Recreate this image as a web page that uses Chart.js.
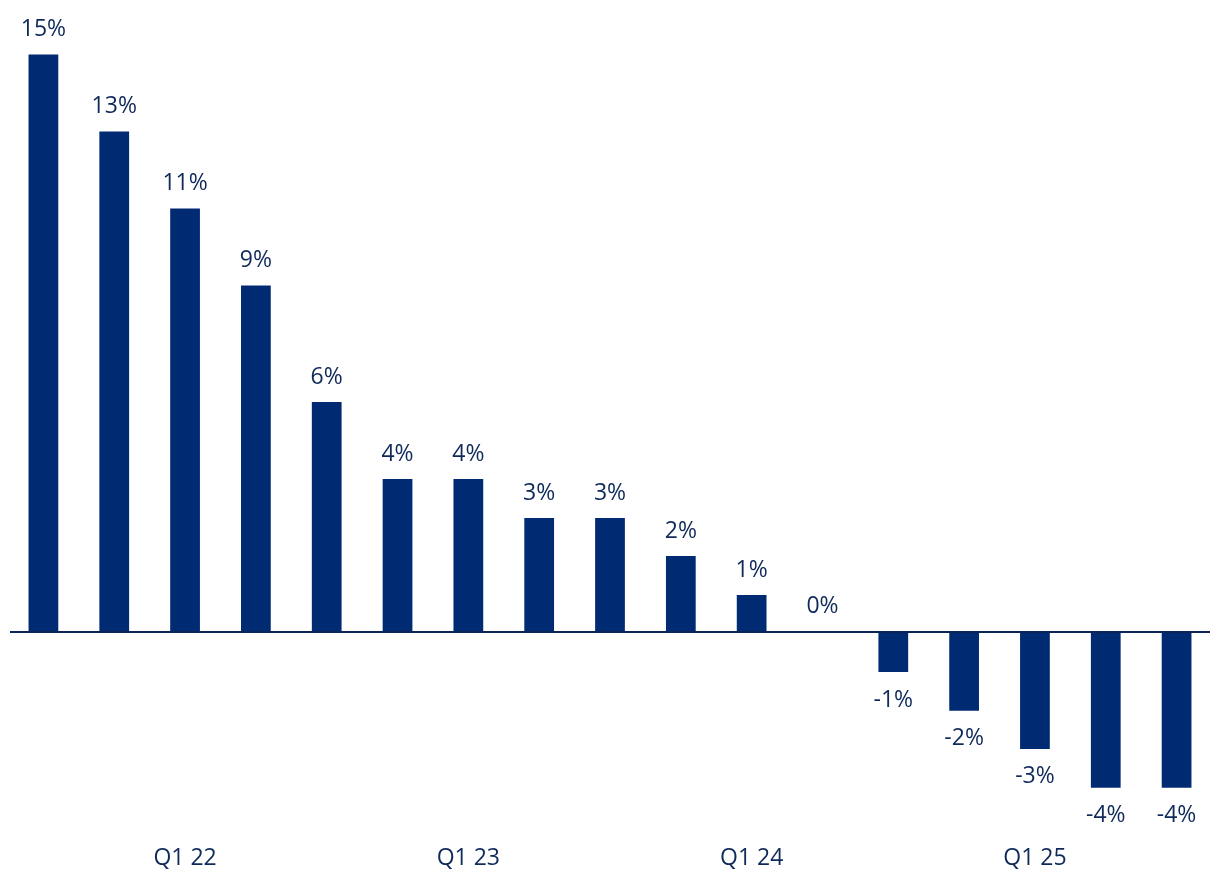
<!DOCTYPE html>
<html>
<head>
<meta charset="utf-8">
<script src="https://cdn.jsdelivr.net/npm/chart.js@4.4.1/dist/chart.umd.min.js"></script>
<style>
  html, body { margin: 0; padding: 0; background: #fff; }
  #wrap { width: 1220px; height: 896px; }
</style>
</head>
<body>
<div id="wrap"><canvas id="barChart"></canvas></div>
<script>
const quarters = ['Q3 21', 'Q4 21', 'Q1 22', 'Q2 22', 'Q3 22', 'Q4 22', 'Q1 23', 'Q2 23', 'Q3 23',
    'Q4 23', 'Q1 24', 'Q2 24', 'Q3 24', 'Q4 24', 'Q1 25', 'Q2 25', 'Q3 25'];
const growth = [15.0, 13.0, 11.0, 9.0, 5.97, 3.97, 3.97, 2.96, 2.96, 1.97, 0.96, 0.0,
    -1.04, -2.05, -3.04, -4.05, -4.05];

const navy = '#002b73';
const textNavy = '#0f2a5a';
const fontFamily = '"Open Sans", "Noto Sans", sans-serif';

// zero line + value labels drawn from the bar elements
const barLabels = {
    id: 'barLabels',
    afterDatasetsDraw(chart) {
        const ctx = chart.ctx;
        const y0 = chart.scales.y.getPixelForValue(0);
        ctx.save();
        ctx.strokeStyle = '#0b2357';
        ctx.lineWidth = 2;
        ctx.beginPath();
        ctx.moveTo(chart.chartArea.left + 2, y0);
        ctx.lineTo(chart.chartArea.right - 2, y0);
        ctx.stroke();

        ctx.fillStyle = textNavy;
        ctx.font = '23px ' + fontFamily;
        ctx.textAlign = 'center';
        ctx.textBaseline = 'middle';
        const meta = chart.getDatasetMeta(0);
        meta.data.forEach((bar, i) => {
            const v = growth[i];
            const txt = Math.round(v) + '%';
            const y = v < 0 ? bar.y + 28 : bar.y - 25;
            ctx.fillText(txt, bar.x, y);
        });
        ctx.restore();
    }
};

new Chart(document.getElementById('barChart').getContext('2d'), {
    type: 'bar',
    data: {
        labels: quarters,
        datasets: [{
            data: growth,
            backgroundColor: navy,
            borderWidth: 0,
            barPercentage: 0.42,
            categoryPercentage: 1
        }]
    },
    options: {
        responsive: true,
        maintainAspectRatio: false,
        animation: false,
        layout: {
            padding: { top: 16, bottom: 4, left: 8, right: 8 }
        },
        plugins: {
            legend: { display: false },
            tooltip: { enabled: false }
        },
        scales: {
            x: {
                grid: { display: false, drawTicks: false },
                border: { display: false },
                ticks: {
                    autoSkip: false,
                    maxRotation: 0,
                    padding: 20,
                    color: textNavy,
                    font: { size: 23, family: fontFamily },
                    callback: function (val, i) {
                        const q = quarters[i];
                        return q.startsWith('Q1') ? q : '';
                    }
                }
            },
            y: {
                display: false,
                min: -5,
                max: 16
            }
        }
    },
    plugins: [barLabels]
});
</script>
</body>
</html>
